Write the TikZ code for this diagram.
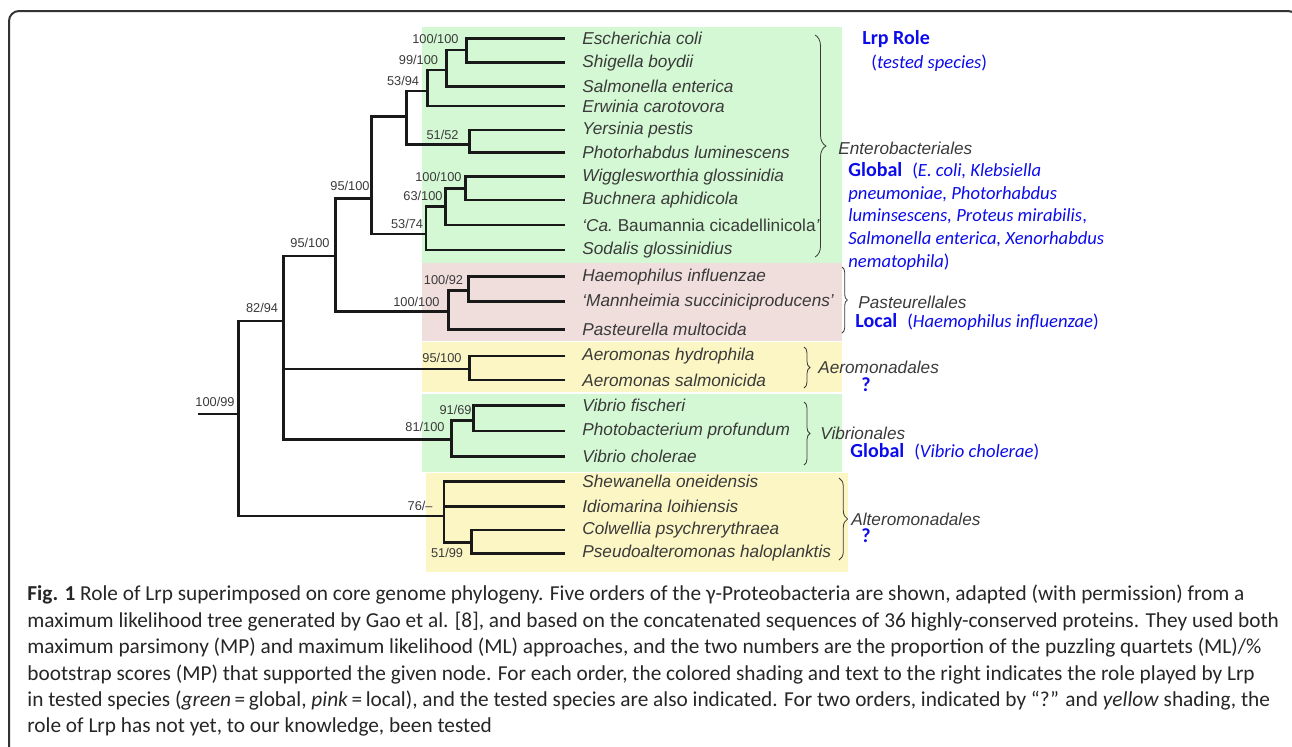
\documentclass[tikz,border=0pt]{standalone}
\usepackage{fontspec}
\setmainfont{Carlito}
\newfontfamily\treefont{Liberation Sans}
\usetikzlibrary{decorations.pathreplacing}
\definecolor{entgreen}{RGB}{212,248,212}
\definecolor{pastpink}{RGB}{240,222,221}
\definecolor{aeroyellow}{RGB}{252,246,196}
\definecolor{roleblue}{RGB}{12,12,235}
\definecolor{treegray}{RGB}{58,58,58}

\begin{document}
\begin{tikzpicture}[x=0.5pt,y=-0.5pt,
  branch/.style={line width=1.4pt, black!90},
  species/.style={anchor=west, inner sep=0pt, text=treegray, font=\treefont\itshape\fontsize{8.6}{10}\selectfont},
  support/.style={anchor=east, inner sep=0pt, text=treegray, font=\treefont\fontsize{6.4}{7.6}\selectfont},
  order/.style={anchor=west, inner sep=0pt, text=treegray, font=\treefont\itshape\fontsize{8.6}{10}\selectfont},
  role/.style={anchor=west, inner sep=0pt, text=roleblue, font=\fontsize{9.3}{11.35}\selectfont},
  bracebar/.style={decorate, decoration={brace, amplitude=#1}, thin, treegray}
]
\useasboundingbox (0,0) rectangle (1292,746);

% Outer frame
\draw[line width=1pt, black!80, rounded corners=5pt] (9,11) rectangle (1298,770);

% Order shading
\fill[entgreen] (422,27) rectangle (842,263);
\fill[pastpink] (422,263) rectangle (842,341);
\fill[aeroyellow] (422,342) rectangle (842,392);
\fill[entgreen] (422,394) rectangle (842,472);
\fill[aeroyellow] (426,473) rectangle (847.5,572);

% Leaves
\foreach \n/\y/\t in {eco/38.3/Escherichia coli, shi/62.7/Shigella boydii,
    sal/86.7/Salmonella enterica, erw/106/Erwinia carotovora,
    yer/130/Yersinia pestis, pho/152.7/Photorhabdus luminescens,
    wig/176.7/Wigglesworthia glossinidia, buc/200/Buchnera aphidicola,
    bau/225/{‘\textit{Ca.}\ \textup{Baumannia cicadellinicola}’}, sod/250/Sodalis glossinidius,
    hae/276.7/Haemophilus influenzae, man/301.7/‘Mannheimia succiniciproducens’,
    pas/329.3/Pasteurella multocida, aeh/356/Aeromonas hydrophila,
    aes/380/Aeromonas salmonicida, vfi/405.7/Vibrio fischeri,
    ppr/431/Photobacterium profundum, vch/456.7/Vibrio cholerae,
    she/481.7/Shewanella oneidensis, idi/506.7/Idiomarina loihiensis,
    col/530/Colwellia psychrerythraea, pse/553.3/Pseudoalteromonas haloplanktis} {
  \coordinate (\n) at (565,\y);
  \node[species] (t\n) at (582,\y) {\t};
}

% Inner nodes of the tree
\coordinate (nEco) at (466.7,50);
\coordinate (nShi) at (446.7,70);
\coordinate (nSal) at (427.3,91);
\coordinate (nYer) at (469.3,144.3);
\coordinate (nEntA) at (406.7,116.7);
\coordinate (nWig) at (465.3,188.3);
\coordinate (nBuc) at (445.7,206.7);
\coordinate (nSod) at (426,234);
\coordinate (nEnt) at (371.7,198.3);
\coordinate (nHae) at (468.7,290.7);
\coordinate (nMan) at (448.7,311.7);
\coordinate (nEP) at (335.7,256);
\coordinate (nAer) at (469.3,369);
\coordinate (nVfi) at (473.3,420.7);
\coordinate (nVib) at (451.7,439.3);
\coordinate (nGam) at (283.3,321);
\coordinate (nCol) at (471.7,542.7);
\coordinate (nAlt) at (444,516);
\coordinate (nRoot) at (238.3,414);
\coordinate (stub) at (198.3,414);

% Branches
\foreach \p/\c in {nEco/eco, nEco/shi, nShi/nEco, nShi/sal, nSal/nShi, nSal/erw,
    nYer/yer, nYer/pho, nEntA/nSal, nEntA/nYer, nWig/wig, nWig/buc,
    nBuc/nWig, nBuc/bau, nSod/nBuc, nSod/sod, nEnt/nEntA, nEnt/nSod,
    nHae/hae, nHae/man, nMan/nHae, nMan/pas, nEP/nEnt, nEP/nMan,
    nAer/aeh, nAer/aes, nVfi/vfi, nVfi/ppr, nVib/nVfi, nVib/vch,
    nGam/nEP, nGam/nAer, nGam/nVib, nCol/col, nCol/pse,
    nAlt/she, nAlt/idi, nAlt/nCol, nRoot/nGam, nRoot/nAlt} {
  \draw[branch] (\p) |- (\c);
}
\draw[branch] (stub) -- (nRoot);

% Support values
\foreach \n/\x/\y/\l in {lEco/459/39/100\slash 100, lShi/438.5/60/99\slash 100,
    lSal/419.5/81/53\slash 94, lYer/459/134.5/51\slash 52, lWig/462/177/100\slash 100,
    lBuc/443/196/63\slash 100, lSod/423.5/224/53\slash 74, lEnt/370/185.7/95\slash 100,
    lEP/330/243/95\slash 100, lHae/463.5/279.5/100\slash 92, lMan/440/301.7/100\slash 100,
    lGam/278.5/308.3/82\slash 94, lAer/462/358.3/95\slash 100, lVfi/472/410/91\slash 69,
    lVib/445/427.3/81\slash 100, lRoot/235/401.7/100\slash 99, lAlt/433/506/76\slash –,
    lCol/463.5/552.7/51\slash 99} {
  \node[support] (\n) at (\x,\y) {\l};
}

% Order braces and names
\draw[bracebar=5.5pt] (815,35) -- (815,257);
\draw[bracebar=2.7pt] (842,267) -- (842,333);
\draw[bracebar=3pt] (804,347) -- (804,388);
\draw[bracebar=3pt] (804,402) -- (804,465);
\draw[bracebar=4.3pt] (839,478) -- (839,560);
\node[order] (oEnt) at (838,148) {Enterobacteriales};
\node[order] (oPas) at (858,302) {Pasteurellales};
\node[order] (oAer) at (818,367) {Aeromonadales};
\node[order] (oVib) at (820,433) {Vibrionales};
\node[order] (oAlt) at (851,519.5) {Alteromonadales};

% Lrp role text
\node[role] (lrpRole) at (862,39) {\bfseries\fontsize{10}{11.35}\selectfont Lrp Role};
\node[role] (tested) at (871,63) {(\textit{tested species})};
\node[role, anchor=north west, align=left] (roleEnt) at (848,162)
  {{\bfseries\fontsize{10}{11.35}\selectfont Global}\hspace{5pt}(\textit{E. coli, Klebsiella}\\
   \textit{pneumoniae, Photorhabdus}\\
   \textit{luminsescens, Proteus mirabilis},\\
   \textit{Salmonella enterica, Xenorhabdus}\\
   \textit{nematophila})};
\node[role] (rolePas) at (855,322) {{\bfseries\fontsize{10}{11.35}\selectfont Local}\hspace{5pt}(\textit{Haemophilus influenzae})};
\node[role, anchor=center] (roleAer) at (866,384.3) {\bfseries\fontsize{10}{11.35}\selectfont ?};
\node[role] (roleVib) at (850,452) {{\bfseries\fontsize{10}{11.35}\selectfont Global}\hspace{5pt}(\textit{Vibrio cholerae})};
\node[role, anchor=center] (roleAlt) at (866,536) {\bfseries\fontsize{10}{11.35}\selectfont ?};

% Caption
\node[anchor=north west, inner sep=0pt, align=left, text=black!85, font=\fontsize{10.65}{13.2}\selectfont] (caption) at (27,585)
  {\textbf{Fig. 1} Role of Lrp superimposed on core genome phylogeny. Five orders of the γ-Proteobacteria are shown, adapted (with permission) from a\\
   maximum likelihood tree generated by Gao et al. [8], and based on the concatenated sequences of 36 highly-conserved proteins. They used both\\
   maximum parsimony (MP) and maximum likelihood (ML) approaches, and the two numbers are the proportion of the puzzling quartets (ML)/\%\\
   bootstrap scores (MP) that supported the given node. For each order, the colored shading and text to the right indicates the role played by Lrp\\
   in tested species (\textit{green}\,=\,global, \textit{pink}\,=\,local), and the tested species are also indicated. For two orders, indicated by “?” and \textit{yellow} shading, the\\
   role of Lrp has not yet, to our knowledge, been tested};

\end{tikzpicture}
\end{document}
